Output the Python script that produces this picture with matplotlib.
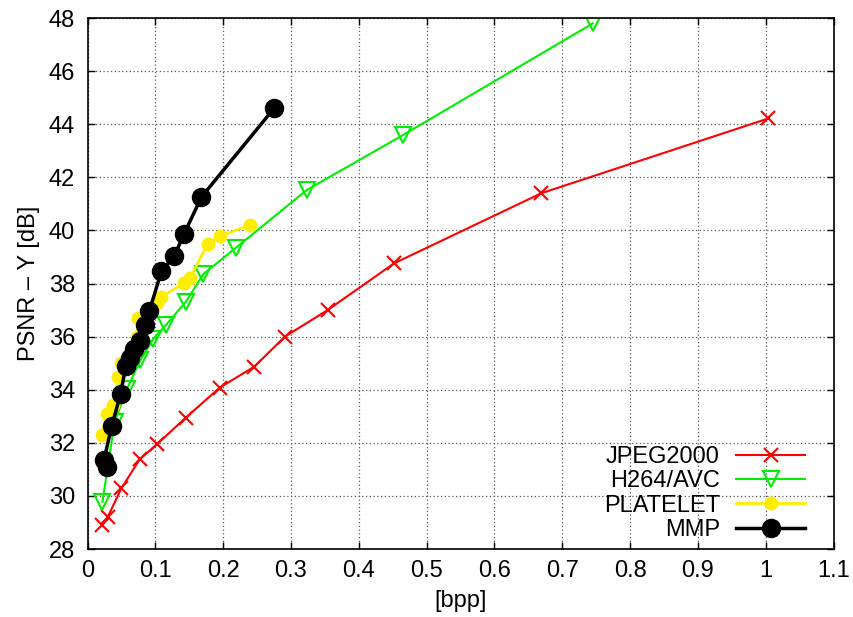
import matplotlib
matplotlib.use("Agg")
import matplotlib.pyplot as plt

plt.rcParams["font.family"] = ["Liberation Sans", "DejaVu Sans"]

# rate [bpp] / PSNR-Y [dB]
jpeg_bpp = [0.022, 0.030, 0.050, 0.077, 0.102, 0.145, 0.195, 0.246, 0.291,
            0.354, 0.452, 0.669, 1.004]
jpeg_psnr = [28.90, 29.22, 30.29, 31.38, 31.94, 32.95, 34.08, 34.87, 36.00,
             37.00, 38.76, 41.40, 44.22]

h264_bpp = [0.022, 0.040, 0.058, 0.078, 0.097, 0.115, 0.145, 0.171, 0.219,
            0.323, 0.465, 0.745]
h264_psnr = [29.78, 32.80, 34.02, 35.12, 35.92, 36.42, 37.31, 38.36, 39.35,
             41.52, 43.59, 47.80]

platelet_bpp = [0.021, 0.028, 0.038, 0.0455, 0.050, 0.0725, 0.075, 0.102,
                0.109, 0.142, 0.151, 0.177, 0.196, 0.239]
platelet_psnr = [32.29, 33.08, 33.42, 34.49, 35.00, 36.00, 36.72, 37.25,
                 37.50, 38.01, 38.20, 39.49, 39.79, 40.20]

mmp_bpp = [0.0283, 0.0243, 0.0357, 0.049, 0.0563, 0.0627, 0.069, 0.0774,
           0.0843, 0.091, 0.109, 0.128, 0.142, 0.168, 0.275]
mmp_psnr = [31.10, 31.35, 32.65, 33.85, 34.89, 35.20, 35.52, 35.82, 36.43,
            36.95, 38.47, 39.04, 39.85, 41.26, 44.60]

FS = 17

fig = plt.figure(figsize=(8.54, 6.17), dpi=100)
ax = fig.add_axes([0.1025, 0.1102, 0.8735, 0.8605])

ax.plot(jpeg_bpp, jpeg_psnr, color="#ff0000", lw=1.5, marker="x", ms=10,
        mew=1.5, label="JPEG2000")
ax.plot(h264_bpp, h264_psnr, color="#00ee00", lw=1.5, marker="v", ms=12,
        mew=1.5, mfc="none", label="H264/AVC")
ax.plot(platelet_bpp, platelet_psnr, color="#ffee00", lw=2, marker="o", ms=9,
        label="PLATELET")
ax.plot(mmp_bpp, mmp_psnr, color="black", lw=2.5, marker="o", ms=13,
        label="MMP")

ax.set_xlim(0, 1.1)
ax.set_ylim(28, 48)
ax.set_xticks([i / 10 for i in range(12)])
ax.set_xticklabels(["0", "0.1", "0.2", "0.3", "0.4", "0.5", "0.6", "0.7",
                    "0.8", "0.9", "1", "1.1"])
ax.set_yticks(range(28, 49, 2))
ax.tick_params(direction="in", top=True, right=True, labelsize=FS,
               length=5, width=1)
ax.tick_params(axis="x", pad=8)
ax.tick_params(axis="y", pad=9)
ax.grid(True, color="0.35", linestyle=(0, (1, 2)), linewidth=0.9)
for s in ax.spines.values():
    s.set_linewidth(1.2)

ax.set_xlabel("[bpp]", fontsize=FS, labelpad=6)
ax.set_ylabel("PSNR \u2013 Y [dB]", fontsize=FS, labelpad=6)

ax.legend(loc="lower right", bbox_to_anchor=(0.99, -0.025), frameon=False,
          markerfirst=False, fontsize=FS, handlelength=2.9, numpoints=1,
          labelspacing=0.1, handletextpad=0.7)

fig.savefig("out.png", dpi=100)
